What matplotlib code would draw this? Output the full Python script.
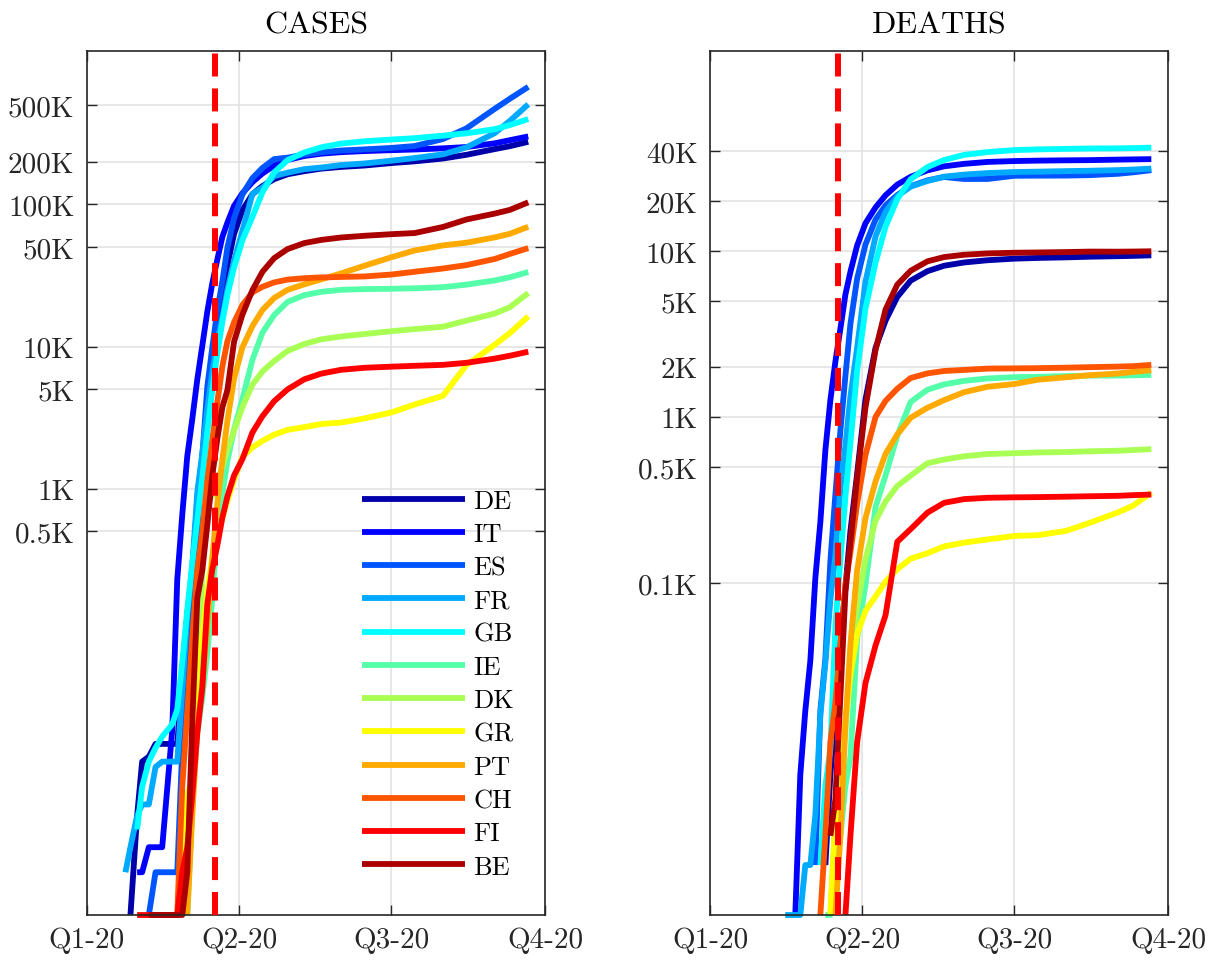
import numpy as np
import pandas as pd
import matplotlib
matplotlib.use('Agg')
import matplotlib.pyplot as plt
from matplotlib.ticker import NullLocator

plt.rcParams['font.family'] = 'cmr10'
plt.rcParams['mathtext.fontset'] = 'cm'
plt.rcParams['axes.formatter.use_mathtext'] = True

nan = np.nan

# sampling dates shared by every series
dates = pd.to_datetime([
    '2020-01-24', '2020-01-27', '2020-01-31', '2020-02-03', '2020-02-07',
    '2020-02-11', '2020-02-15', '2020-02-21', '2020-02-24', '2020-02-27',
    '2020-03-01', '2020-03-04', '2020-03-07', '2020-03-10', '2020-03-13',
    '2020-03-16', '2020-03-19', '2020-03-22', '2020-03-25', '2020-03-29',
    '2020-04-03', '2020-04-09', '2020-04-15', '2020-04-22', '2020-04-30',
    '2020-05-10', '2020-05-20', '2020-06-01', '2020-06-15', '2020-07-01',
    '2020-07-15', '2020-08-01', '2020-08-15', '2020-09-01', '2020-09-10',
    '2020-09-21'])

countries = ['DE', 'IT', 'ES', 'FR', 'GB', 'IE', 'DK', 'GR', 'PT', 'CH', 'FI', 'BE']

# cumulative cases
cases_DE = [nan, 1, 5, 12, 13, 16, 16, 16, 16, 46, 130, 262, 799, 1457, 3675, 7272,
            15320, 24873, 37323, 62095, 91159, 118181, 134753, 150648, 163009,
            171324, 178473, 183594, 187764, 195392, 200890, 210402, 223453,
            245158, 256850, 275927]
cases_IT = [nan, nan, 2, 2, 3, 3, 3, 20, 229, 655, 1694, 3089, 5883, 10149, 17660,
            27980, 41035, 59138, 74386, 97689, 119827, 143626, 165155, 187327,
            205463, 219070, 227364, 233197, 237290, 240760, 243506, 248070,
            253438, 269214, 283180, 300897]
cases_ES = [nan, nan, nan, nan, 1, 2, 2, 2, 2, 15, 84, 222, 500, 1695, 5232, 9942,
            17963, 28768, 49515, 80110, 117710, 153222, 180659, 208389, 213435,
            224390, 232555, 239638, 243928, 249659, 257494, 288522, 342813,
            470973, 554143, 671468]
cases_FR = [2, 3, 5, 6, 6, 11, 12, 12, 12, 38, 130, 285, 949, 1784, 3667, 6650,
            10871, 16018, 25233, 40174, 65202, 118781, 131361, 158050, 167299,
            176970, 181700, 189220, 194153, 202981, 211943, 225043, 252017,
            317706, 387252, 506052]
cases_GB = [nan, nan, 4, 8, 12, 15, 18, 22, 28, 60, 140, 300, 600, 1200, 2500, 5000,
            9000, 15000, 23000, 36000, 56000, 82000, 122000, 168000, 205000,
            232000, 252000, 268000, 278000, 286000, 292552, 304695, 316367,
            338676, 361677, 398625]
cases_IE = [nan] * 10 + [1, 6, 19, 34, 70, 169, 557, 906, 1564, 2615, 4273, 8089,
                         12547, 16671, 20612, 22996, 24251, 25066, 25355, 25489,
                         25698, 26162, 27257, 29206, 30730, 33444]
cases_DK = [nan] * 9 + [1, 3, 10, 23, 264, 801, 898, 1151, 1420, 1877, 2564, 3757,
                        5402, 6681, 7912, 9311, 10429, 11230, 11771, 12250, 12815,
                        13262, 13789, 15214, 17084, 18924, 23799]
cases_GR = [nan] * 9 + [1, 7, 9, 66, 89, 190, 331, 464, 624, 821, 1156, 1673, 1955,
                        2170, 2401, 2591, 2710, 2850, 2918, 3121, 3432, 3910, 4500,
                        7400, 10317, 12452, 16286]
cases_PT = [nan] * 10 + [1, 5, 21, 41, 112, 331, 785, 1600, 2995, 5962, 9886, 13956,
                         18091, 21982, 25045, 27406, 29660, 32700, 37036, 42454,
                         47426, 51463, 53783, 58633, 62126, 69663]
cases_CH = [nan] * 8 + [1, 8, 27, 90, 268, 491, 1139, 2200, 4075, 7245, 10897, 14829,
                        19606, 24051, 26336, 28268, 29586, 30251, 30658, 30874,
                        31131, 32101, 33591, 35412, 37403, 41346, 44837, 49283]
cases_FI = [nan, nan, 1, 1, 1, 1, 1, 1, 1, 2, 3, 7, 19, 40, 155, 272, 400, 626, 880,
            1240, 1615, 2487, 3237, 4129, 4995, 5880, 6443, 6859, 7087, 7214,
            7318, 7432, 7683, 8225, 8614, 9195]
cases_BE = [nan, nan, nan, nan, 1, 1, 1, 1, 1, 1, 2, 23, 169, 267, 559, 1243, 2257,
            3743, 4937, 10836, 16770, 24983, 33573, 41889, 48519, 53449, 56235,
            58517, 60155, 61727, 62872, 69402, 78323, 86240, 91539, 103392]

# cumulative deaths
deaths_DE = [nan] * 13 + [2, 7, 17, 44, 94, 206, 455, 1275, 2607, 3804, 5279, 6623,
                          7549, 8144, 8522, 8791, 8985, 9078, 9148, 9231, 9298, 9341,
                          9409]
deaths_IT = [nan] * 7 + [1, 7, 17, 34, 107, 233, 631, 1266, 2158, 3405, 5476, 7503,
                         10779, 14681, 18279, 21645, 25085, 27967, 30560, 32330,
                         33475, 34371, 34788, 34997, 35146, 35234, 35491, 35597,
                         35738]
deaths_ES = [nan] * 11 + [2, 17, 35, 136, 342, 831, 1772, 3647, 6803, 10935, 15447,
                          18812, 21717, 24543, 26621, 27888, 27127, 27136, 28363,
                          28413, 28445, 28617, 29152, 29747, 30663]
deaths_FR = [nan] * 6 + [1, 1, 1, 2, 2, 4, 16, 33, 79, 148, 372, 674, 1333, 2611, 6520,
                         12228, 17188, 21373, 24415, 26383, 28025, 28836, 29443,
                         29864, 30034, 30268, 30413, 30686, 30916, 31338]
deaths_GB = [nan] * 12 + [2, 6, 10, 55, 140, 330, 700, 1900, 4500, 8500, 14000, 20500,
                          27000, 32000, 35300, 37900, 39400, 40500, 40900, 41200,
                          41400, 41500, 41650, 41900]
deaths_IE = [nan] * 13 + [1, 1, 2, 3, 6, 9, 46, 98, 287, 444, 769, 1232, 1458, 1571,
                          1650, 1706, 1736, 1746, 1763, 1774, 1777, 1781, 1792]
deaths_DK = [nan] * 14 + [1, 4, 6, 13, 34, 72, 139, 237, 309, 384, 443, 526, 554, 580,
                          598, 605, 611, 615, 621, 626, 632, 640]
deaths_GR = [nan] * 14 + [1, 4, 6, 15, 28, 49, 68, 83, 102, 121, 140, 151, 166, 175,
                          183, 192, 194, 206, 230, 266, 292, 350]
deaths_PT = [nan] * 15 + [1, 3, 14, 43, 119, 246, 409, 599, 785, 989, 1135, 1263, 1410,
                          1520, 1579, 1676, 1735, 1784, 1827, 1867, 1912]
deaths_CH = [nan] * 12 + [1, 3, 11, 19, 43, 98, 153, 300, 591, 1000, 1250, 1478, 1716,
                          1830, 1892, 1920, 1956, 1962, 1968, 1981, 1995, 2011, 2023,
                          2060]
deaths_FI = [nan] * 17 + [1, 3, 11, 25, 42, 64, 177, 211, 265, 304, 320, 326, 328, 329,
                          331, 333, 335, 338, 341]
deaths_BE = [nan] * 14 + [3, 5, 21, 88, 178, 431, 1143, 2523, 4440, 6262, 7594, 8656,
                          9186, 9486, 9661, 9754, 9792, 9845, 9909, 9899, 9917, 9955]

cases = [cases_DE, cases_IT, cases_ES, cases_FR, cases_GB, cases_IE,
         cases_DK, cases_GR, cases_PT, cases_CH, cases_FI, cases_BE]
deaths = [deaths_DE, deaths_IT, deaths_ES, deaths_FR, deaths_GB, deaths_IE,
          deaths_DK, deaths_GR, deaths_PT, deaths_CH, deaths_FI, deaths_BE]

# MATLAB jet(12)
colors = [(0, 0, 0.6667), (0, 0, 1), (0, 0.3333, 1), (0, 0.6667, 1), (0, 1, 1),
          (0.3333, 1, 0.6667), (0.6667, 1, 0.3333), (1, 1, 0), (1, 0.6667, 0),
          (1, 0.3333, 0), (1, 0, 0), (0.6667, 0, 0)]

quarter_dates = pd.to_datetime(['2020-01-01', '2020-04-01', '2020-07-01', '2020-10-01'])
quarter_labels = ['Q1-20', 'Q2-20', 'Q3-20', 'Q4-20']
marker_date = pd.Timestamp('2020-03-17 12:00')

cases_ticks = [500, 1000, 5000, 10000, 50000, 100000, 200000, 500000]
cases_ticklabels = ['0.5K', '1K', '5K', '10K', '50K', '100K', '200K', '500K']
deaths_ticks = [100, 500, 1000, 2000, 5000, 10000, 20000, 40000]
deaths_ticklabels = ['0.1K', '0.5K', '1K', '2K', '5K', '10K', '20K', '40K']

dark = '#262626'

fig = plt.figure(figsize=(12.2, 9.62), dpi=100)
ax1 = fig.add_axes([0.0713, 0.0478, 0.3754, 0.8981])
ax2 = fig.add_axes([0.582, 0.0478, 0.3754, 0.8981])

panels = [(ax1, cases, 'CASES', (1, 1.2e6), cases_ticks, cases_ticklabels),
          (ax2, deaths, 'DEATHS', (1, 1.6e5), deaths_ticks, deaths_ticklabels)]

for ax, data, title, ylim, yt, ytl in panels:
    for name, vals, c in zip(countries, data, colors):
        ax.plot(dates, vals, color=c, lw=4.2, label=name, clip_on=False,
                solid_joinstyle='round', solid_capstyle='butt')
    ax.axvline(marker_date, color='red', lw=4.3, dashes=(3.85, 2.0), zorder=5)

    ax.set_yscale('log')
    ax.set_ylim(*ylim)
    ax.set_yticks(yt)
    ax.set_yticklabels(ytl)
    ax.yaxis.set_minor_locator(NullLocator())
    ax.set_xlim(quarter_dates[0], quarter_dates[-1])
    ax.set_xticks(quarter_dates)
    ax.set_xticklabels(quarter_labels)

    ax.grid(True, color='#e0e0e0', lw=1.1)
    ax.set_axisbelow(True)
    ax.tick_params(direction='in', length=7, width=1.0, top=True, right=True,
                   labelsize=21, color=dark, labelcolor=dark)
    ax.tick_params(axis='y', pad=9)
    ax.tick_params(axis='x', pad=8)
    for sp in ax.spines.values():
        sp.set_linewidth(1.2)
        sp.set_color(dark)
    ax.set_title(title, fontsize=23, pad=13, color='black')

ax1.legend(loc='lower right', bbox_to_anchor=(0.955, 0.03), frameon=False,
           fontsize=19, handlelength=3.9, handletextpad=0.3, labelspacing=0.36,
           borderaxespad=0)

fig.savefig('out.png', dpi=100)
